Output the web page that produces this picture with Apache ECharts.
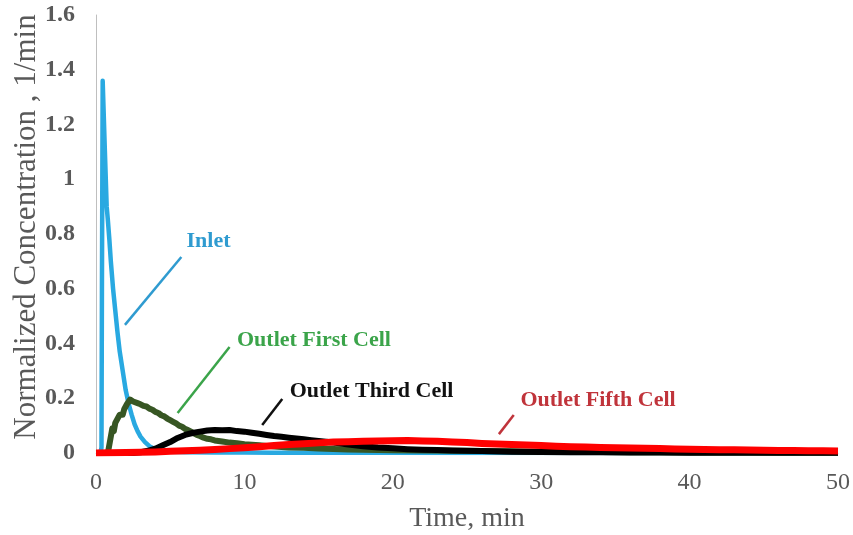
<!DOCTYPE html>
<html>
<head>
<meta charset="utf-8">
<script src="https://cdn.jsdelivr.net/npm/echarts@6/dist/echarts.min.js"></script>
<style>
html,body{margin:0;padding:0;background:#fff;}
#chart{width:853px;height:535px;}
</style>
</head>
<body>
<div id="chart"></div>
<script>
// ---- Data ----
const seriesNames = ['Inlet', 'Outlet First Cell', 'Outlet Third Cell', 'Outlet Fifth Cell'];

const tInlet = [0, 0.3, 0.37, 0.4, 0.45, 0.6, 0.72, 0.8, 0.9, 1.0, 1.15, 1.3, 1.45, 1.6, 1.8, 2.0, 2.2, 2.4, 2.6, 2.8, 3.0, 3.3, 3.6, 4.0, 4.5, 5, 6, 8, 10, 12, 15, 20, 25, 30, 40, 50];
const vInlet = [0, 0, 0.02, 0.6, 1.36, 1.1, 0.9, 0.85, 0.78, 0.70, 0.60, 0.52, 0.44, 0.37, 0.30, 0.23, 0.18, 0.14, 0.105, 0.08, 0.06, 0.04, 0.025, 0.014, 0.008, 0.005, 0.003, 0.002, 0.002, 0.001, 0.001, 0.001, 0, 0, 0, 0];

const tFirst = [0, 0.8, 0.9, 1.0, 1.1, 1.2, 1.3, 1.4, 1.5, 1.6, 1.7, 1.8, 1.9, 2.0, 2.1, 2.2, 2.3, 2.4, 2.5, 2.6, 2.8, 3.0, 3.2, 3.4, 3.6, 3.8, 4.0, 4.2, 4.4, 4.6, 4.8, 5.0, 5.2, 5.4, 5.6, 5.8, 6.0, 6.2, 6.4, 6.6, 6.8, 7.0, 7.25, 7.5, 7.75, 8.0, 8.5, 9, 9.5, 10, 10.5, 11, 11.5, 12, 13, 14, 15, 16, 17, 18, 19, 20, 22, 24, 26, 28, 30, 32, 34, 36, 38, 40, 42, 44, 46, 48, 50];
const vFirst = [0, 0, 0.03, 0.06, 0.09, 0.08, 0.11, 0.12, 0.115, 0.14, 0.145, 0.14, 0.16, 0.165, 0.18, 0.175, 0.195, 0.19, 0.188, 0.192, 0.182, 0.178, 0.172, 0.17, 0.162, 0.158, 0.15, 0.146, 0.138, 0.134, 0.126, 0.12, 0.114, 0.108, 0.1, 0.096, 0.088, 0.084, 0.078, 0.072, 0.066, 0.062, 0.056, 0.052, 0.05, 0.046, 0.042, 0.038, 0.036, 0.032, 0.03, 0.028, 0.026, 0.024, 0.02, 0.019, 0.016, 0.015, 0.013, 0.012, 0.011, 0.010, 0.009, 0.008, 0.007, 0.006, 0.005, 0.004, 0.004, 0.003, 0.003, 0.002, 0.002, 0.002, 0.001, 0.001, 0.001];

const tThird = [0, 2.5, 3, 3.5, 4, 4.5, 5, 5.5, 6, 6.5, 7, 7.5, 8, 8.5, 9, 9.5, 10, 10.5, 11, 11.5, 12, 12.5, 13, 13.5, 14, 14.5, 15, 16, 17, 18, 19, 20, 21, 22, 23, 24, 25, 26, 28, 30, 32, 34, 36, 38, 40, 42, 44, 46, 48, 50];
const vThird = [0, 0, 0.003, 0.008, 0.016, 0.028, 0.04, 0.055, 0.066, 0.073, 0.078, 0.082, 0.084, 0.083, 0.084, 0.08, 0.078, 0.074, 0.07, 0.066, 0.062, 0.059, 0.056, 0.053, 0.05, 0.047, 0.044, 0.038, 0.031, 0.025, 0.02, 0.017, 0.014, 0.012, 0.011, 0.009, 0.008, 0.007, 0.005, 0.004, 0.003, 0.003, 0.002, 0.002, 0.001, 0.001, 0.001, 0.001, 0.001, 0.001];

const tFifth = [0, 1, 2, 3, 4, 5, 6, 7, 8, 9, 10, 11, 12, 13, 14, 15, 16, 17, 18, 19, 20, 21, 22, 23, 24, 25, 26, 27, 28, 29, 30, 31, 32, 33, 34, 35, 36, 37, 38, 39, 40, 41, 42, 43, 44, 45, 46, 47, 48, 49, 50];
const vFifth = [0, 0.001, 0.002, 0.003, 0.004, 0.006, 0.008, 0.01, 0.013, 0.016, 0.019, 0.023, 0.027, 0.031, 0.034, 0.037, 0.04, 0.041, 0.043, 0.044, 0.045, 0.046, 0.044, 0.043, 0.04, 0.038, 0.035, 0.033, 0.031, 0.029, 0.027, 0.025, 0.023, 0.022, 0.02, 0.019, 0.018, 0.017, 0.016, 0.015, 0.014, 0.013, 0.012, 0.012, 0.011, 0.01, 0.009, 0.009, 0.008, 0.008, 0.007];

// annotation anchors in data units: [leaderStart, leaderEnd, textAnchor]
const annInlet = [[1.95, 0.468], [5.75, 0.716], [6.1, 0.774]];
const annFirst = [[5.5, 0.146], [9.0, 0.387], [9.5, 0.413]];
const annThird = [[11.2, 0.102], [12.55, 0.197], [13.05, 0.226]];
const annFifth = [[27.15, 0.069], [28.15, 0.139], [28.6, 0.194]];

const xTicks = { min: 0, max: 50, interval: 10 };
const yTicks = { min: 0, max: 1.6, interval: 0.2 };

// ---- Build chart ----
function pairs(t, v) { return t.map((x, i) => [x, v[i]]); }

const lineColors = ['#29A9E1', '#375623', '#000000', '#FF0000'];
const labelColors = ['#2F9BD0', '#3BA44A', '#111111', '#C0343B'];
const widths = [4.5, 6, 6, 7];
const tArr = [tInlet, tFirst, tThird, tFifth];
const vArr = [vInlet, vFirst, vThird, vFifth];
const anns = [annInlet, annFirst, annThird, annFifth];

const series = seriesNames.map((name, i) => ({
  name: name,
  type: 'line',
  showSymbol: false,
  symbol: 'none',
  data: pairs(tArr[i], vArr[i]),
  lineStyle: { color: lineColors[i], width: widths[i], join: 'round' },
  itemStyle: { color: lineColors[i] },
  z: 2 + i,
  markLine: {
    silent: true,
    symbol: ['none', 'none'],
    label: { show: false },
    lineStyle: { color: labelColors[i], width: 2.5, type: 'solid' },
    data: [[{ coord: anns[i][0] }, { coord: anns[i][1] }]]
  },
  markPoint: {
    silent: true,
    symbol: 'circle',
    symbolSize: 0,
    data: [{ coord: anns[i][2] }],
    label: {
      show: true,
      position: 'right',
      distance: 0,
      formatter: name,
      color: labelColors[i],
      fontFamily: 'Liberation Serif',
      fontWeight: 'bold',
      fontSize: 22
    }
  }
}));

const chart = echarts.init(document.getElementById('chart'), null, { renderer: 'canvas' });
chart.setOption({
  animation: false,
  backgroundColor: '#ffffff',
  grid: { left: 96, right: 15, top: 15, bottom: 82, containLabel: false, outerBoundsMode: 'none' },
  xAxis: {
    type: 'value',
    min: xTicks.min, max: xTicks.max, interval: xTicks.interval,
    name: 'Time, min',
    nameLocation: 'middle',
    nameGap: 52,
    nameMoveOverlap: false,
    nameTextStyle: { fontFamily: 'Liberation Serif', fontSize: 28, color: '#595959' },
    axisLine: { show: true, lineStyle: { color: '#D9D9D9', width: 1 } },
    axisTick: { show: false },
    splitLine: { show: false },
    axisLabel: { margin: 18, fontFamily: 'Liberation Serif', fontSize: 24, color: '#595959' }
  },
  yAxis: {
    type: 'value',
    min: yTicks.min, max: yTicks.max, interval: yTicks.interval,
    name: 'Normalized Concentration , 1/min',
    nameLocation: 'middle',
    nameGap: 54,
    nameMoveOverlap: false,
    nameTextStyle: { fontFamily: 'Liberation Serif', fontSize: 31, color: '#595959', padding: [0, 0, 0, 14] },
    axisLine: { show: true, lineStyle: { color: '#BFBFBF', width: 1 } },
    axisTick: { show: false },
    splitLine: { show: false },
    axisLabel: { margin: 21, fontFamily: 'Liberation Serif', fontWeight: 'bold', fontSize: 24, color: '#595959' }
  },
  series: series
});
</script>
</body>
</html>
